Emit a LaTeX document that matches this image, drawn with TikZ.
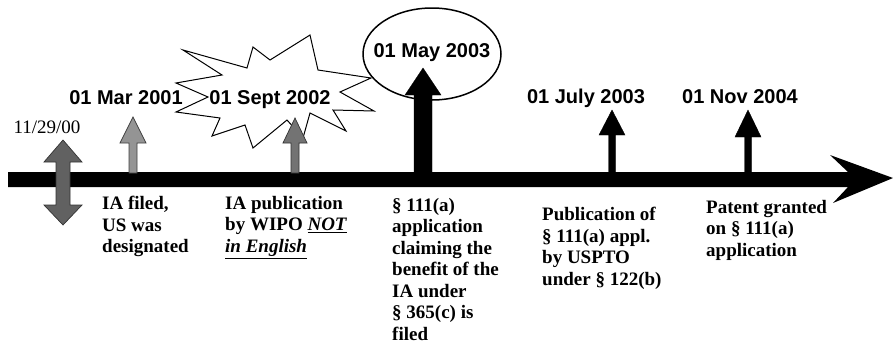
\documentclass[tikz,border=0pt]{standalone}
\usepackage{fontspec}
\setmainfont{Liberation Serif}
\setsansfont{Liberation Sans}
\newcommand\tlarrow[7]{% style, x, tip y, head base y, bottom y, head half width, shaft half width
  \draw[#1] ({#2-#7},#5) -- ({#2-#7},#4) -- ({#2-#6},#4) -- (#2,#3) -- ({#2+#6},#4) -- ({#2+#7},#4) -- ({#2+#7},#5) -- cycle;}
\begin{document}
\begin{tikzpicture}[x=1pt,y=-1pt,
  datelab/.style={font=\sffamily\bfseries\fontsize{20}{24}\selectfont, inner sep=0pt, anchor=base},
  desc/.style={font=\bfseries\fontsize{19}{21.5}\selectfont, align=left, inner sep=0pt, anchor=north west},
  grayarw/.style={fill=black!42, draw=black!75, line width=0.7pt},
  midarw/.style={fill=black!55, draw=black!80, line width=0.7pt},
  darkarw/.style={fill=black!62, draw=black!80, line width=0.7pt},
  blackarw/.style={fill=black, draw=black, line width=0.4pt},
  outline/.style={draw=black, line width=1.5pt, fill=white}]
\useasboundingbox (0,0) rectangle (893,351);

% timeline bar with arrowhead
\fill[black] (8,172) -- (848,172) -- (830,155) -- (893,178) -- (833,203) -- (848,187) -- (8,187) -- cycle;

% starburst behind the Sept 2002 date
\draw[outline, line width=1pt, line join=miter]
  (183,50) -- (247,68) -- (253,47) -- (270,60) -- (310,35) -- (318,70) -- (371,78) -- (340,92)
  -- (374,111) -- (333,110) -- (346,131) -- (310,113) -- (303,138) -- (287,120) -- (253,148)
  -- (245,125) -- (212,136) -- (220,118) -- (176,112) -- (208,97) -- (176,83) -- (222,75) -- cycle;

% ellipse around the May 2003 date
\draw[outline] (432,54) ellipse [x radius=69, y radius=46];

% arrows
\draw[darkarw] (56,205) -- (44,205) -- (63,225) -- (82,205) -- (70,205) -- (70,162) -- (82,162) -- (63,140) -- (44,162) -- (56,162) -- cycle;
\tlarrow{grayarw}{133}{117}{143}{173}{13}{4}
\tlarrow{midarw}{295}{118}{143}{173}{12}{4}
\tlarrow{blackarw}{423}{68}{95}{173}{18}{9}
\tlarrow{blackarw}{612}{110}{135}{173}{13}{3.5}
\tlarrow{blackarw}{748}{110}{137}{173}{13}{3.5}

% date labels
\node[font=\fontsize{19}{22}\selectfont, inner sep=0pt, anchor=base] (d0) at (47,133) {11/29/00};
\node[datelab] (d1) at (126,104) {01 Mar 2001};
\node[datelab] (d2) at (270,104) {01 Sept 2002};
\node[datelab] (d3) at (432,57) {01 May 2003};
\node[datelab] (d4) at (586,103) {01 July 2003};
\node[datelab] (d5) at (740,103) {01 Nov 2004};

% descriptions
\node[desc] (e1) at (102,196) {IA filed,\\US was\\designated};
\node[desc] (e2) at (225,196) {IA publication\\by WIPO \underline{\textit{NOT}}\\\underline{\textit{in English}}};
\node[desc] (e3) at (392,198) {§ 111(a)\\application\\claiming the\\benefit of the\\IA under\\§ 365(c) is\\filed};
\node[desc] (e4) at (542,207) {Publication of\\§ 111(a) appl.\\by USPTO\\under § 122(b)};
\node[desc] (e5) at (706,200) {Patent granted\\on § 111(a)\\application};
\end{tikzpicture}
\end{document}
